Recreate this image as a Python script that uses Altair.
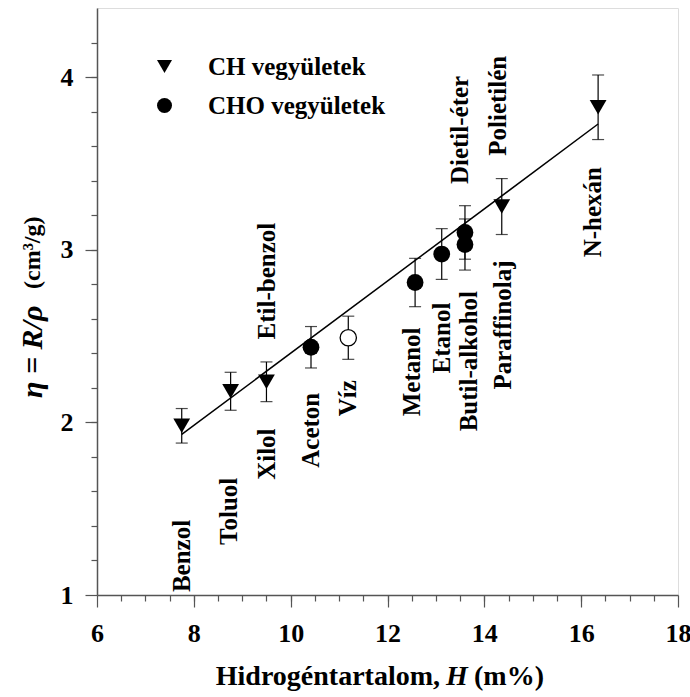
import altair as alt
import pandas as pd

# Measured compounds: hydrogen content H (m%) and specific refraction eta (cm3/g)
names = ["Benzol", "Toluol", "Xilol", "Aceton", "Víz", "Metanol", "Etanol",
         "Butil-alkohol", "Dietil-éter", "Paraffinolaj", "N-hexán"]
h_vals = [7.75, 8.76, 9.50, 10.42, 11.19, 12.57, 13.12, 13.60, 13.60, 14.36, 16.35]
eta_vals = [1.98, 2.18, 2.235, 2.435, 2.49, 2.81, 2.975, 3.03, 3.10, 3.25, 3.825]
eta_err = [0.10, 0.11, 0.115, 0.12, 0.125, 0.14, 0.147, 0.148, 0.155, 0.162, 0.187]
groups = ["CH vegyületek", "CH vegyületek", "CH vegyületek", "CHO vegyületek", "víz",
          "CHO vegyületek", "CHO vegyületek", "CHO vegyületek", "CHO vegyületek",
          "CH vegyületek", "CH vegyületek"]

# Fitted straight line (end points)
fit_h = [7.75, 16.35]
fit_eta = [1.93, 3.728]

# Compound name labels (vertical text, anchored at the lower end)
label_text = ["Benzol", "Toluol", "Xilol", "Etil-benzol", "Aceton", "Víz", "Metanol",
              "Etanol", "Butil-alkohol", "Paraffinolaj", "Dietil-éter", "Polietilén", "N-hexán"]
label_h = [7.75, 8.73, 9.51, 9.51, 10.42, 11.18, 12.50, 13.12, 13.68, 14.39, 13.50, 14.28, 16.24]
label_eta = [1.017, 1.29, 1.667, 2.48, 1.737, 2.035, 2.035, 2.283, 1.948, 2.19, 3.38, 3.544, 2.956]

x_major = [6, 8, 10, 12, 14, 16, 18]
x_minor = [6.5 + 0.5 * i for i in range(23)]
y_major = [1, 2, 3, 4]
y_minor = [1.2 + 0.2 * i for i in range(16)]

FONT = "Liberation Serif"
AX = "#555555"

pts = pd.DataFrame({"name": names, "H": h_vals, "eta": eta_vals, "err": eta_err, "group": groups})
pts["lo"] = pts["eta"] - pts["err"]
pts["hi"] = pts["eta"] + pts["err"]
fit = pd.DataFrame({"H": fit_h, "eta": fit_eta})
labels = pd.DataFrame({"t": label_text, "H": label_h, "eta": label_eta})

xs = alt.Scale(domain=[6, 18], nice=False, zero=False)
ys = alt.Scale(domain=[1, 4.4], nice=False, zero=False)

x_major_axis = alt.Axis(values=x_major, format="d", orient="bottom", title=None, grid=False,
                        tickSize=12, tickColor=AX, tickWidth=1.2, domainColor=AX, domainWidth=1.5,
                        labelFont=FONT, labelFontSize=26, labelFontWeight="bold", labelColor="black",
                        labelPadding=13, labelFlush=False, labelOverlap=False)
y_major_axis = alt.Axis(values=y_major, format="d", orient="left", title=None, grid=False,
                        tickSize=12, tickColor=AX, tickWidth=1.2, domainColor=AX, domainWidth=1.5,
                        labelFont=FONT, labelFontSize=26, labelFontWeight="bold", labelColor="black",
                        labelPadding=12, labelFlush=False)
x_minor_axis = alt.Axis(values=x_minor, orient="bottom", title=None, grid=False, labels=False,
                        domain=False, tickSize=6, tickColor=AX, tickWidth=1.2)
y_minor_axis = alt.Axis(values=y_minor, orient="left", title=None, grid=False, labels=False,
                        domain=False, tickSize=6, tickColor=AX, tickWidth=1.2)

line = alt.Chart(fit).mark_line(color="black", strokeWidth=1.5).encode(
    x=alt.X("H:Q", scale=xs, axis=x_major_axis),
    y=alt.Y("eta:Q", scale=ys, axis=y_major_axis),
)

bars = alt.Chart(pts).mark_rule(color="black", strokeWidth=1.2).encode(
    x=alt.X("H:Q", scale=xs, axis=x_minor_axis),
    y=alt.Y("lo:Q", scale=ys, axis=y_minor_axis),
    y2="hi:Q",
)

caps_lo = alt.Chart(pts).mark_tick(color="black", orient="horizontal", size=12, thickness=1.2).encode(
    x=alt.X("H:Q", scale=xs, axis=None),
    y=alt.Y("lo:Q", scale=ys, axis=None),
)
caps_hi = alt.Chart(pts).mark_tick(color="black", orient="horizontal", size=12, thickness=1.2).encode(
    x=alt.X("H:Q", scale=xs, axis=None),
    y=alt.Y("hi:Q", scale=ys, axis=None),
)

filled = alt.Chart(pts).transform_filter(alt.datum.group != "víz").mark_point(
    filled=True, color="black", opacity=1, size=282
).encode(
    x=alt.X("H:Q", scale=xs, axis=None),
    y=alt.Y("eta:Q", scale=ys, axis=None),
    shape=alt.Shape(
        "group:N",
        scale=alt.Scale(domain=["CH vegyületek", "CHO vegyületek"], range=["triangle-down", "circle"]),
        legend=alt.Legend(
            orient="none", legendX=55, legendY=46, title=None, padding=0,
            labelFont=FONT, labelFontSize=25, labelFontWeight="bold", labelColor="black",
            labelLimit=0, symbolSize=225, symbolFillColor="black", symbolStrokeWidth=0,
            symbolOpacity=1, labelOffset=31, rowPadding=13,
        ),
    ),
)

water = alt.Chart(pts).transform_filter(alt.datum.group == "víz").mark_point(
    filled=True, fill="white", stroke="black", strokeWidth=1.3, opacity=1, size=265, shape="circle"
).encode(
    x=alt.X("H:Q", scale=xs, axis=None),
    y=alt.Y("eta:Q", scale=ys, axis=None),
)

names_txt = alt.Chart(labels).mark_text(
    angle=270, align="left", baseline="middle", font=FONT, fontSize=25, fontWeight="bold", color="black"
).encode(
    x=alt.X("H:Q", scale=xs, axis=None),
    y=alt.Y("eta:Q", scale=ys, axis=None),
    text="t:N",
)

# Axis titles built from pieces so the symbols can be italic
xt1 = alt.Chart(pd.DataFrame({"t": ["Hidrogéntartalom,"]})).mark_text(
    align="right", baseline="alphabetic", font=FONT, fontSize=28, fontWeight="bold", color="black"
).encode(x=alt.value(343), y=alt.value(677), text="t:N")
xt2 = alt.Chart(pd.DataFrame({"t": ["H"]})).mark_text(
    align="left", baseline="alphabetic", font=FONT, fontSize=28, fontWeight="bold",
    fontStyle="italic", color="black"
).encode(x=alt.value(349), y=alt.value(677), text="t:N")
xt3 = alt.Chart(pd.DataFrame({"t": ["(m%)"]})).mark_text(
    align="left", baseline="alphabetic", font=FONT, fontSize=28, fontWeight="bold", color="black"
).encode(x=alt.value(377), y=alt.value(677), text="t:N")

yt1 = alt.Chart(pd.DataFrame({"t": ["η = R/ρ"]})).mark_text(
    angle=270, align="left", baseline="middle", font=FONT, fontSize=30, fontWeight="bold",
    fontStyle="italic", color="black"
).encode(x=alt.value(-64), y=alt.value(390), text="t:N")
yt2 = alt.Chart(pd.DataFrame({"t": ["(cm³/g)"]})).mark_text(
    angle=270, align="left", baseline="middle", font=FONT, fontSize=24, fontWeight="bold", color="black"
).encode(x=alt.value(-64), y=alt.value(281), text="t:N")

chart = alt.layer(
    line, bars, caps_lo, caps_hi, filled, water, names_txt, xt1, xt2, xt3, yt1, yt2
).resolve_axis(
    x="independent", y="independent"
).properties(
    width=581, height=587,
    autosize=alt.AutoSizeParams(type="none"),
    padding={"left": 97, "top": 8, "right": 12, "bottom": 102},
).configure_view(
    stroke=AX, strokeWidth=1.5
).configure_axis(
    labelFont=FONT, labelFontWeight="bold"
).configure_legend(
    labelFont=FONT, labelFontWeight="bold"
).configure(background="white")

chart.save("out.html", embed_options={"renderer": "svg", "actions": False})
